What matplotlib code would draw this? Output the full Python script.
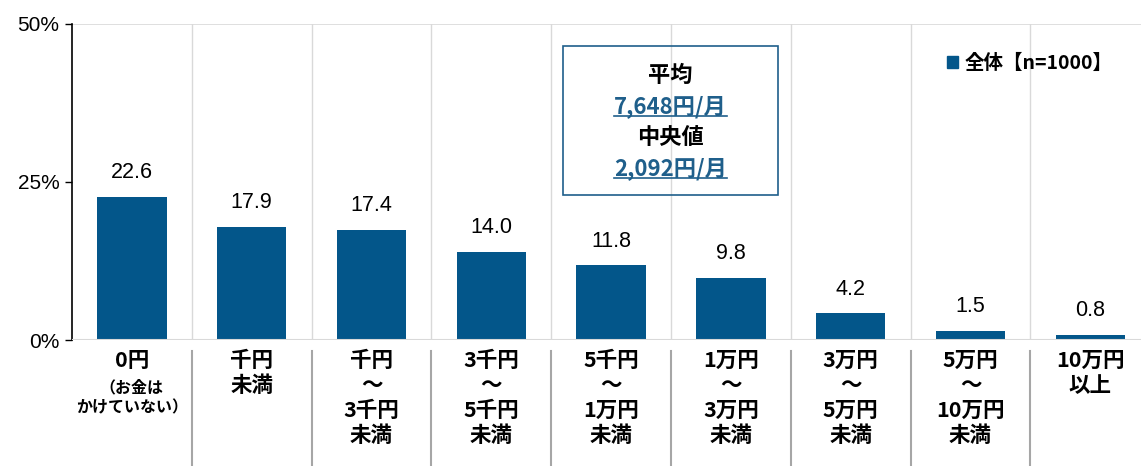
import matplotlib
matplotlib.use("Agg")
import matplotlib.pyplot as plt
from matplotlib.lines import Line2D
from matplotlib.patches import Rectangle

plt.rcParams["font.family"] = ["Noto Sans CJK JP", "DejaVu Sans"]
plt.rcParams["font.weight"] = "bold"

categories = ["0円", "千円\n未満", "千円\n～\n3千円\n未満", "3千円\n～\n5千円\n未満",
              "5千円\n～\n1万円\n未満", "1万円\n～\n3万円\n未満", "3万円\n～\n5万円\n未満",
              "5万円\n～\n10万円\n未満", "10万円\n以上"]
sub_label = "（お金は\nかけていない）"
values = [22.6, 17.9, 17.4, 14.0, 11.8, 9.8, 4.2, 1.5, 0.8]
yticks = [0, 25, 50]
ytick_labels = ["0%", "25%", "50%"]
legend_label = "全体【n=1000】"
box_lines = [("平均", False), ("7,648円/月", True), ("中央値", False), ("2,092円/月", True)]

BAR = "#03568a"
W, H = 1141, 466

fig = plt.figure(figsize=(W / 100, H / 100), dpi=100)
ax = fig.add_axes([72 / W, 1 - 340 / H, (W - 72) / W, (340 - 24) / H])

x = list(range(len(values)))
ax.bar(x, values, width=0.58, color=BAR, zorder=3)
ax.set_xlim(-0.5, -0.5 + (W - 72) / 119.8)
ax.set_ylim(0, 50)

num_font = ["Liberation Sans", "DejaVu Sans"]
for xi, v in zip(x, values):
    ax.text(xi, v + 2.2, f"{v:.1f}", ha="center", va="bottom", fontsize=15.5,
            family=num_font, weight="normal")

ax.set_yticks(yticks)
ax.set_yticklabels(ytick_labels, fontsize=15, family=num_font, weight="normal")
ax.tick_params(axis="y", length=5, width=1, pad=4)
ax.set_xticks([])
for s in ["top", "right", "bottom"]:
    ax.spines[s].set_visible(False)
ax.spines["left"].set_color("black")
ax.spines["left"].set_linewidth(1.2)

ax.axhline(50, color="#d9d9d9", lw=1.2, zorder=1)
ax.axhline(0, color="#d9d9d9", lw=1.5, zorder=4)
for xi in x[:-1]:
    ax.axvline(xi + 0.5, color="#d9d9d9", lw=1, zorder=1)
    ax.add_line(Line2D([xi + 0.5, xi + 0.5], [-1.8, -40], color="#a6a6a6", lw=1.5,
                       clip_on=False))

for xi, lab in zip(x, categories):
    ax.text(xi, -1.6, lab, ha="center", va="top", fontsize=15.5, linespacing=1.24)
ax.text(0, -6.3, sub_label, ha="center", va="top", fontsize=11.5, linespacing=1.25)

# summary box
ax.add_patch(Rectangle((3.6, 22.9), 1.79, 23.6, fill=False, edgecolor="#1f5f8b",
                       lw=1.2, zorder=5))
fig.canvas.draw()
renderer = fig.canvas.get_renderer()
for i, (txt, blue) in enumerate(box_lines):
    t = ax.text(4.495, 41.9 - i * 4.95, txt, ha="center", va="center", fontsize=16,
                color="#1f5f8b" if blue else "black", zorder=6)
    if blue:
        bb = t.get_window_extent(renderer).transformed(ax.transData.inverted())
        ax.add_line(Line2D([bb.x0, bb.x1], [bb.y0 + 0.35, bb.y0 + 0.35], color="#1f5f8b",
                           lw=1.2, zorder=6))

ax.legend([Rectangle((0, 0), 1, 1, color=BAR)], [legend_label], loc="upper right",
          bbox_to_anchor=(0.99, 0.96), frameon=False, fontsize=14, handlelength=0.55,
          handleheight=0.55, handletextpad=0.35)

fig.savefig("out.png", dpi=100)
